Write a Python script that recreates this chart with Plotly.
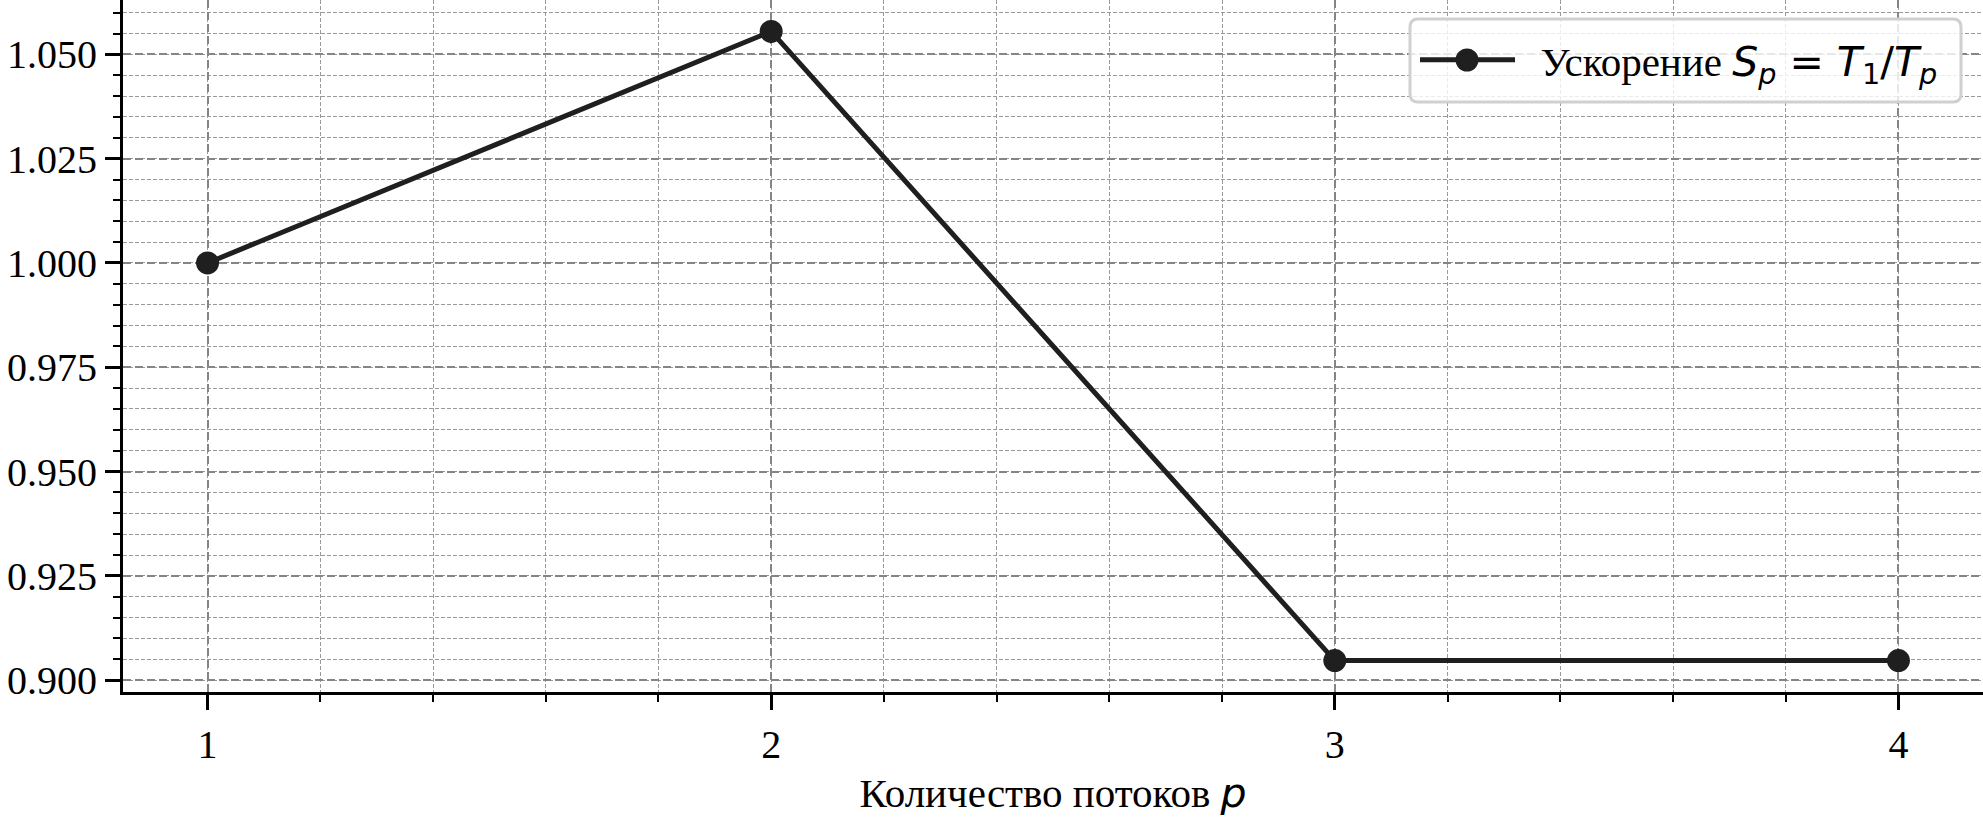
import plotly.graph_objects as go

threads = [1, 2, 3, 4]
speedup = [1.000, 1.0555, 0.9047, 0.9047]
y_tick_vals = [0.900, 0.925, 0.950, 0.975, 1.000, 1.025, 1.050]
x_tick_vals = [1, 2, 3, 4]

series_name = ('\u00a0\u00a0Ускорение <span style="font-family:DejaVu Sans"><i>S</i><sub><i>p</i></sub>'
               ' = <i>T</i><sub>1</sub>/<i>T</i><sub><i>p</i></sub></span>')
x_title = 'Количество потоков <span style="font-family:DejaVu Sans"><i>p</i></span>'

W, H = 1983, 817
ML, MR, MT, MB = 123, 0, 0, 125
PW, PH = W - ML - MR, H - MT - MB

ymin, ymax = min(speedup), max(speedup)
ypad = 0.05 * (ymax - ymin)
xmin, xmax = min(threads), max(threads)
xpad = 0.05 * (xmax - xmin)

LINE = "#1f1f1f"
MAJOR_GRID = "#858585"
MINOR_GRID = "#9a9a9a"
SERIF = "Liberation Serif, Times New Roman, serif"
MARKER_SIZE = 23


def px_x(p):
    return (p - ML) / PW


def px_y(p):
    return 1 - (p - MT) / PH


# rounded legend frame (decoration), pixel box -> paper coords
lx0, lx1, ly0, ly1, rad = 1410, 1961, 19, 102, 8
frame = (f"M {px_x(lx0 + rad)} {px_y(ly0)} L {px_x(lx1 - rad)} {px_y(ly0)} "
         f"Q {px_x(lx1)} {px_y(ly0)} {px_x(lx1)} {px_y(ly0 + rad)} "
         f"L {px_x(lx1)} {px_y(ly1 - rad)} Q {px_x(lx1)} {px_y(ly1)} {px_x(lx1 - rad)} {px_y(ly1)} "
         f"L {px_x(lx0 + rad)} {px_y(ly1)} Q {px_x(lx0)} {px_y(ly1)} {px_x(lx0)} {px_y(ly1 - rad)} "
         f"L {px_x(lx0)} {px_y(ly0 + rad)} Q {px_x(lx0)} {px_y(ly0)} {px_x(lx0 + rad)} {px_y(ly0)} Z")

# legend symbol marker enlarged to match trace marker size (decoration)
half = MARKER_SIZE / 2
legend_dot = dict(type="circle", xref="paper", yref="paper", layer="above",
                  xsizemode="pixel", ysizemode="pixel",
                  xanchor=px_x(1467), yanchor=px_y(60),
                  x0=-half, x1=half, y0=-half, y1=half,
                  fillcolor=LINE, line=dict(width=0))

fig = go.Figure()
fig.add_trace(go.Scatter(
    x=threads, y=speedup, mode="lines+markers", name=series_name,
    line=dict(color=LINE, width=5),
    marker=dict(color=LINE, size=MARKER_SIZE),
    showlegend=True,
))

fig.update_layout(
    width=W, height=H,
    margin=dict(l=ML, r=MR, t=MT, b=MB),
    paper_bgcolor="white", plot_bgcolor="white",
    font=dict(family=SERIF, size=40, color="black"),
    showlegend=True,
    shapes=[dict(type="path", path=frame, xref="paper", yref="paper", layer="above",
                 fillcolor="rgba(255,255,255,0.8)", line=dict(color="#d0d0d0", width=3)),
            legend_dot],
    legend=dict(
        x=px_x(1415), y=px_y(60), xanchor="left", yanchor="middle",
        bgcolor="rgba(0,0,0,0)", borderwidth=0,
        font=dict(family=SERIF, size=41, color="black"),
        itemwidth=95, itemsizing="trace",
    ),
    xaxis=dict(
        range=[xmin - xpad, xmax + xpad],
        tickmode="array", tickvals=x_tick_vals, ticktext=[str(v) for v in x_tick_vals],
        ticks="outside", ticklen=15, tickwidth=3, tickcolor="black",
        showline=True, linecolor="black", linewidth=3, mirror=False,
        showgrid=True, gridcolor=MAJOR_GRID, gridwidth=2, griddash="8px,4px",
        zeroline=False,
        minor=dict(dtick=0.2, tick0=1, ticks="outside", ticklen=7, tickwidth=2,
                   tickcolor="black", showgrid=True, gridcolor=MINOR_GRID,
                   gridwidth=1.2, griddash="4px,2px"),
        title=dict(text=x_title, font=dict(family=SERIF, size=41, color="black"), standoff=14),
        tickfont=dict(family=SERIF, size=40, color="black"),
    ),
    yaxis=dict(
        range=[ymin - ypad, ymax + ypad],
        tickmode="array", tickvals=y_tick_vals,
        ticktext=[f"{v:.3f}" for v in y_tick_vals],
        ticks="outside", ticklen=15, tickwidth=3, tickcolor="black",
        showline=True, linecolor="black", linewidth=3, mirror=False,
        showgrid=True, gridcolor=MAJOR_GRID, gridwidth=2, griddash="8px,4px",
        zeroline=False,
        minor=dict(dtick=0.005, tick0=0.9, ticks="outside", ticklen=7, tickwidth=2,
                   tickcolor="black", showgrid=True, gridcolor=MINOR_GRID,
                   gridwidth=1.2, griddash="4px,2px"),
        tickfont=dict(family=SERIF, size=40, color="black"),
    ),
)

fig.write_html("out.html", config={"displayModeBar": False},
               post_script="document.body.style.margin='0px';document.body.style.overflow='hidden';")
